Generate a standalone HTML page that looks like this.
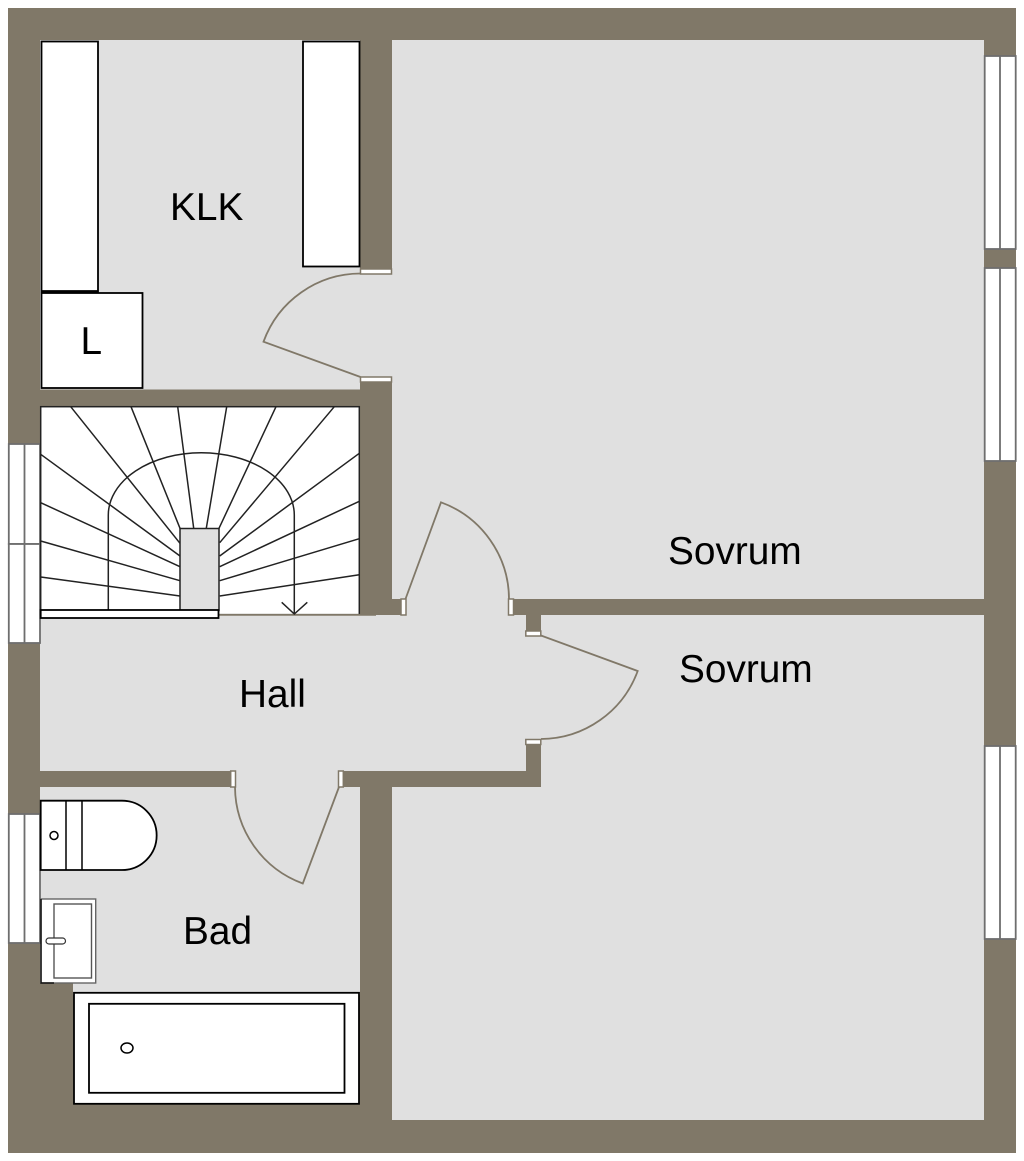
<!DOCTYPE html>
<html>
<head>
<meta charset="utf-8">
<style>
html,body{margin:0;padding:0;background:#fff}
svg{display:block}
text{font-family:"Liberation Sans",sans-serif;font-size:38.8px;fill:#000}
</style>
</head>
<body>
<svg width="1024" height="1161" viewBox="0 0 1024 1161" xmlns="http://www.w3.org/2000/svg">
<rect width="1024" height="1161" fill="#fff"/>
<!-- outer walls -->
<rect x="8" y="8" width="1008" height="1145" fill="#807868"/>
<!-- floors -->
<g fill="#e0e0e0">
<rect x="392" y="40" width="592" height="559"/>
<rect x="40" y="40" width="320" height="349.500"/>
<rect x="355" y="274" width="40" height="103"/>
<rect x="40" y="615" width="486" height="156"/>
<rect x="406" y="595" width="103" height="24"/>
<rect x="520" y="636" width="25" height="103"/>
<rect x="541" y="615" width="443" height="172"/>
<rect x="392" y="787" width="592" height="333"/>
<rect x="40" y="787" width="320" height="196"/>
<rect x="73" y="975" width="287" height="20"/>
<rect x="235" y="768" width="104" height="22"/>
</g>
<!-- windows -->
<g fill="#fff" stroke="#6e6e6e" stroke-width="1.800">
<rect x="984.700" y="56" width="31" height="193"/>
<rect x="984.700" y="268" width="31" height="193"/>
<rect x="984.700" y="746" width="31" height="193"/>
<rect x="8.800" y="444" width="31.200" height="100"/>
<rect x="8.800" y="544" width="31.200" height="99"/>
<rect x="8.800" y="814" width="31.200" height="129"/>
</g>
<g stroke="#6e6e6e" stroke-width="1.800">
<path d="M1000 56V249M1000 268V461M1000 746V939M24.500 444V643M24.500 814V943"/>
</g>
<!-- KLK furniture -->
<g fill="#fff" stroke="#000" stroke-width="1.800">
<rect x="41.500" y="41.500" width="56.500" height="250"/>
<rect x="303" y="41.500" width="56.500" height="225"/>
<rect x="41.500" y="293" width="101" height="95"/>
</g>
<path d="M41 291.500H98" stroke="#000" stroke-width="2.800"/>
<!-- stairs -->
<rect x="40.700" y="406.700" width="318.600" height="208" fill="#fff" stroke="#222" stroke-width="1.500"/>
<path d="M219 614.800H376" stroke="#807868" stroke-width="1.800"/>
<g stroke="#222" stroke-width="1.500" fill="none">
<path d="M70.700 406.700L180 543.300M131 406.700L180 528.300M177.700 406.700L193.700 528.300M226.700 406.700L206.300 528.300M276 406.700L219 528.300M334.300 406.700L219.700 542.700"/>
<path d="M40.700 454.300L180 556M40.700 502.700L180 566.700M40.700 541L180 580.700M40.700 577L180 596"/>
<path d="M359.300 453.300L219.700 556M359.300 501.300L219.700 566.700M359.300 538.700L219.700 580.700M359.300 574.700L219.700 596"/>
<path d="M108.300 610V515A93 62.300 0 0 1 294.300 515V614"/>
<path d="M281.700 602.300L294.300 614L307.300 602.300"/>
</g>
<rect x="180" y="528.500" width="39" height="82" fill="#e0e0e0" stroke="#222" stroke-width="1.500"/>
<rect x="40.700" y="610" width="177.800" height="8" fill="#fff" stroke="#000" stroke-width="1.800"/>
<!-- door jambs -->
<g fill="#fff" stroke="#807868" stroke-width="1.500">
<rect x="360.500" y="269" width="31" height="5"/>
<rect x="360.500" y="377" width="31" height="5"/>
<rect x="401" y="599" width="5" height="16"/>
<rect x="508.500" y="599" width="5" height="16"/>
<rect x="525.800" y="631" width="15" height="5"/>
<rect x="525.800" y="739.500" width="15" height="5"/>
<rect x="230.700" y="771" width="4.800" height="16"/>
<rect x="338.500" y="771" width="4.800" height="16"/>
</g>
<!-- door swings -->
<g fill="none" stroke="#807868" stroke-width="1.800">
<path d="M360.500 273.500A103.500 103.500 0 0 0 263.500 341.700L360.500 377"/>
<path d="M405.500 599L441 502.300A103.500 103.500 0 0 1 509 599"/>
<path d="M541 635.500L637.700 671A103.500 103.500 0 0 1 541 739"/>
<path d="M235 787A103.500 103.500 0 0 0 302.800 883.500L339 787"/>
</g>
<!-- toilet -->
<path d="M40.700 800.700H122A34.600 34.600 0 0 1 122 870H40.700Z" fill="#fff" stroke="#000" stroke-width="1.800"/>
<path d="M66 800.700V870M82 800.700V870" stroke="#000" stroke-width="1.500"/>
<circle cx="54" cy="835.500" r="4" fill="#fff" stroke="#000" stroke-width="1.500"/>
<!-- sink -->
<rect x="41" y="899" width="54.700" height="84" fill="#fff" stroke="#666" stroke-width="1.400"/>
<path d="M41 899V983H54" fill="none" stroke="#111" stroke-width="1.500"/>
<rect x="54" y="904" width="37.500" height="74" fill="#fff" stroke="#555" stroke-width="1.400"/>
<rect x="46" y="938" width="19.500" height="6" rx="3" fill="#fff" stroke="#333" stroke-width="1.200"/>
<!-- bath -->
<rect x="74" y="992.800" width="285" height="111" fill="#fff" stroke="#000" stroke-width="1.800"/>
<rect x="89" y="1003.800" width="255.500" height="89" fill="#fff" stroke="#000" stroke-width="1.800"/>
<ellipse cx="127" cy="1048" rx="6" ry="5" fill="#fff" stroke="#000" stroke-width="1.500"/>
<!-- labels -->
<text x="170" y="220">KLK</text>
<text x="80.500" y="354">L</text>
<text x="668" y="564">Sovrum</text>
<text x="679" y="682">Sovrum</text>
<text x="239" y="707">Hall</text>
<text x="183" y="944">Bad</text>
</svg>
</body>
</html>
